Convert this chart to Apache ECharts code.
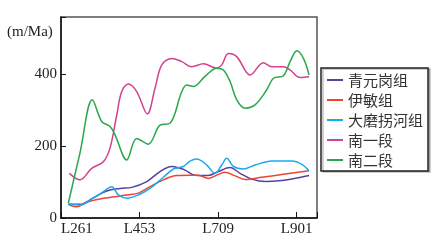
<!DOCTYPE html>
<html>
<head>
<meta charset="utf-8">
<script src="https://cdn.jsdelivr.net/npm/echarts@6/dist/echarts.min.js"></script>
<style>
html,body{margin:0;padding:0;background:#fff;}
#chart{width:441px;height:241px;}
</style>
</head>
<body>
<div id="chart"></div>
<script>
// x positions are in profile units: 0 = L261, 10 = L453, 20 = L709, 30 = L901
var tickLabels = ['L261', 'L453', 'L709', 'L901'];
var yTicks = [0, 200, 400];
var seriesNames = ['青元岗组', '伊敏组', '大磨拐河组', '南一段', '南二段'];

var qingYuanGang = [[0.93,38],[2.42,38],[4.11,56],[5.82,75],[7.52,82],[9.01,85],[10.92,101],[12.61,129],[14.10,143],[15.16,138],[15.80,133],[17.07,119],[18.76,118],[20.04,129],[21.53,140],[22.80,124],[24.29,108],[25.99,101],[28.11,104],[30.25,112],[31.59,118]];
var yiMin = [[0.93,38],[2.0,31],[3.27,44],[4.97,53],[6.66,58],[8.37,64],[9.85,69],[11.34,87],[13.03,106],[14.74,118],[16.43,119],[17.49,119],[18.76,110],[20.04,121],[20.89,127],[22.17,117],[23.44,107],[25.57,113],[28.54,122],[31.59,131]];
var daMoGuaiHe = [[0.93,38],[2.42,36],[4.11,55],[5.39,73],[6.46,87],[7.30,64],[8.37,55],[9.85,64],[11.34,82],[13.03,113],[14.31,136],[15.58,143],[16.43,158],[17.29,164],[18.56,147],[19.62,124],[20.47,147],[21.11,166],[21.95,143],[23.22,136],[24.71,147],[26.84,158],[29.39,158],[30.66,149],[31.59,131]];
var nanYiDuan = [[1.06,124],[2.42,106],[3.91,138],[5.39,156],[6.24,194],[7.10,286],[7.73,351],[8.57,372],[9.64,351],[10.99,289],[11.97,360],[12.83,425],[14.10,443],[15.38,434],[16.65,420],[18.13,428],[19.83,416],[20.47,425],[21.31,457],[22.38,448],[24.08,397],[25.77,431],[26.84,420],[28.32,420],[29.17,411],[30.45,390],[31.59,392]];
var nanErDuan = [[0.93,41],[2.42,181],[3.99,328],[5.18,268],[6.24,254],[6.88,231],[8.37,161],[9.64,221],[11.12,205],[12.61,258],[13.89,263],[15.38,351],[16.01,369],[16.85,365],[18.34,393],[19.83,416],[20.68,411],[21.53,379],[22.38,328],[23.44,305],[24.71,314],[26.20,356],[27.05,388],[28.32,395],[29.17,434],[30.03,464],[30.87,443],[31.59,397]];

var allData = [qingYuanGang, yiMin, daMoGuaiHe, nanYiDuan, nanErDuan];
var colors = ['#5b3f9c', '#ee4433', '#1aaaf0', '#d1438f', '#28a84a'];

var chart = echarts.init(document.getElementById('chart'), null, {renderer: 'canvas'});
var serif = '"Liberation Serif", "DejaVu Serif", serif';

chart.setOption({
  animation: false,
  backgroundColor: '#fff',
  color: colors,
  grid: {left: 61, top: 17, right: 124, bottom: 23, show: true, borderColor: '#555', borderWidth: 1.5, backgroundColor: 'transparent'},
  graphic: [{
    type: 'text', left: 7, top: 25,
    style: {text: '(m/Ma)', font: '15px ' + serif, fill: '#222'}
  }],
  legend: {
    orient: 'vertical', left: 321, top: 68,
    data: seriesNames,
    icon: 'rect', itemWidth: 16, itemHeight: 2, itemGap: 0,
    padding: [2, 5, 1, 6],
    borderColor: '#222', borderWidth: 1.5,
    backgroundColor: '#fff',
    shadowColor: 'rgba(0,0,0,0.25)', shadowOffsetX: 2, shadowOffsetY: 1, shadowBlur: 0,
    textStyle: {fontFamily: '"Noto Sans CJK SC", sans-serif', fontSize: 15, color: '#333', lineHeight: 20, padding: 0}
  },
  xAxis: {
    type: 'value', min: 0, max: 32.6, interval: 10,
    splitLine: {show: false},
    axisLine: {show: true, lineStyle: {color: '#111', width: 1.5}},
    axisTick: {show: true, inside: true, length: 6, lineStyle: {color: '#111'}},
    axisLabel: {
      color: '#222', fontFamily: serif, fontSize: 15, margin: 4,
      alignMinLabel: 'left',
      formatter: function (v) { return (v % 10 === 0 && tickLabels[v / 10]) ? tickLabels[v / 10] : ''; }
    }
  },
  yAxis: {
    type: 'value', min: 0, max: 558, interval: 200,
    splitLine: {show: false},
    axisLine: {show: true, lineStyle: {color: '#111', width: 1.5}},
    axisTick: {show: true, inside: true, length: 5, lineStyle: {color: '#111'}},
    axisLabel: {
      color: '#222', fontFamily: serif, fontSize: 15, margin: 4,
      formatter: function (v) { return yTicks.indexOf(v) >= 0 ? String(v) : ''; }
    }
  },
  series: seriesNames.map(function (n, i) {
    return {
      name: n, type: 'line', data: allData[i], smooth: 0.35,
      showSymbol: false, symbol: 'none',
      lineStyle: {width: 1.5, color: colors[i]}
    };
  })
});
</script>
</body>
</html>
